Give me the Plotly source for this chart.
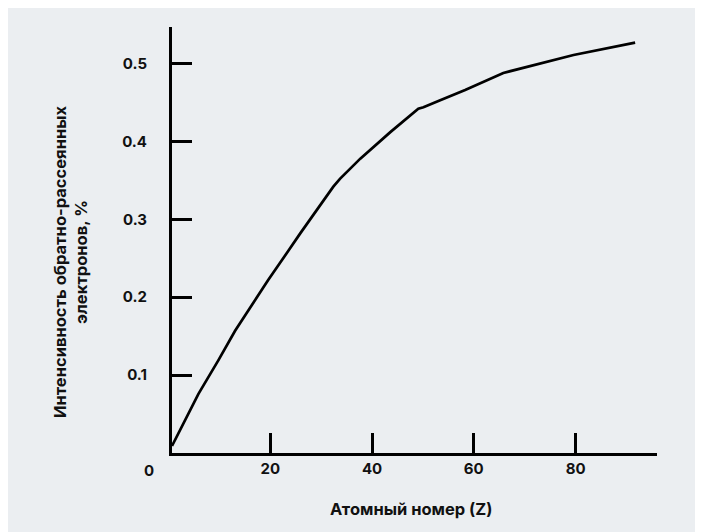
import plotly.graph_objects as go

# Data
atomic_number = [0.7, 5.9, 9.8, 13.1, 16.4, 19.6, 23.6, 25.9, 32.4, 33.7, 37.7, 43.6,
                 49.1, 50.1, 53.4, 58.3, 65.8, 79.6, 91.7]
intensity = [0.009, 0.076, 0.119, 0.157, 0.190, 0.222, 0.260, 0.282, 0.342, 0.352, 0.378,
             0.412, 0.442, 0.444, 0.453, 0.466, 0.488, 0.511, 0.527]
x_ticks = [20, 40, 60, 80]
y_ticks = [0.1, 0.2, 0.3, 0.4, 0.5]
y_tick_labels = ["0.1", "0.2", "0.3", "0.4", "0.5"]
x_title = "Атомный номер (Z)"
y_title = "Интенсивность обратно-рассеянных<br>электронов, %"

# page body has an 8px margin, so the figure is offset by 8px
OFF = 8
W, H = 703 - OFF, 532 - OFF
L, R, T, B = 172 - OFF, 46, 27 - OFF, 79
pw, ph = W - L - R, H - T - B

def px(x):
    return (x - OFF - L) / pw

def py(y):
    return (H - B - (y - OFF)) / ph

BG = "#ebeef1"
TICKFONT = dict(family="Inter, 'Open Sans', sans-serif", size=15, color="#111111", weight="bold")
TITLEFONT = dict(family="Inter, 'Open Sans', sans-serif", size=16.5, color="#111111", weight="bold")

fig = go.Figure()
fig.add_trace(go.Scatter(x=atomic_number, y=intensity, mode="lines",
                         line=dict(color="#000000", width=2.7, shape="linear"),
                         hoverinfo="skip", showlegend=False))

fig.update_layout(
    width=W, height=H,
    margin=dict(l=L, r=R, t=T, b=B, pad=0),
    paper_bgcolor=BG, plot_bgcolor=BG,
    font=TICKFONT,
    showlegend=False,
    xaxis=dict(range=[0.7, 96], tickvals=x_ticks, ticks="inside", ticklen=20, tickwidth=3,
               tickcolor="#000", showline=True, linecolor="#000", linewidth=3,
               showgrid=False, zeroline=False, tickfont=TICKFONT, ticklabelstandoff=0),
    yaxis=dict(range=[0, 0.547], tickvals=y_ticks, ticktext=y_tick_labels, ticks="inside",
               ticklen=20, tickwidth=3, tickcolor="#000", showline=True, linecolor="#000",
               linewidth=3, showgrid=False, zeroline=False, tickfont=TICKFONT,
               ticklabelstandoff=19),
    annotations=[
        dict(text="0", x=px(149), y=py(470), xref="paper", yref="paper", showarrow=False,
             xanchor="center", yanchor="middle", font=TICKFONT),
        dict(text=x_title, x=px(411), y=py(509), xref="paper", yref="paper", showarrow=False,
             xanchor="center", yanchor="middle", font=TITLEFONT),
        dict(text=y_title, x=px(70), y=py(262), xref="paper", yref="paper", showarrow=False,
             xanchor="center", yanchor="middle", textangle=-90, font=TITLEFONT),
    ],
)

fig.write_html("out.html")
